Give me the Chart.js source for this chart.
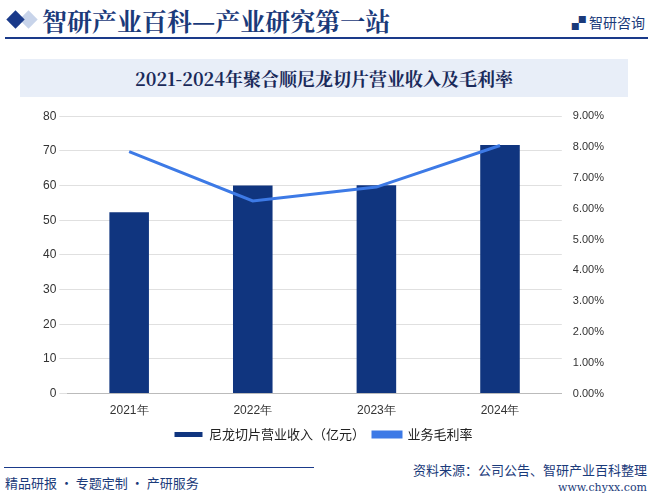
<!DOCTYPE html>
<html><head><meta charset="utf-8">
<script src="https://cdn.jsdelivr.net/npm/chart.js@4"></script>
<style>
body{margin:0;width:653px;height:503px;background:#fff;position:relative;overflow:hidden;font-family:"Noto Sans CJK SC",sans-serif;}
.hdr{position:absolute;left:42px;top:2px;font-size:25px;font-weight:bold;color:#1a3a7a;font-family:"Noto Serif CJK SC","Noto Sans CJK SC";}
.dia{position:absolute;width:13px;height:13px;background:#1a3a8a;transform:rotate(45deg);left:9px;top:13px;}
.dia2{position:absolute;width:13px;height:13px;background:#c8d4ea;transform:rotate(45deg);left:22px;top:13px;}
.logo{position:absolute;right:8px;top:12px;font-size:14px;color:#1a3a7a;}
.line1{position:absolute;left:5px;right:5px;top:37px;height:2px;background:#1a3a8a;}
.tbox{position:absolute;left:20px;top:59px;width:608px;height:38px;background:#e8eef8;text-align:center;line-height:38px;font-size:18px;color:#1a2a5a;font-weight:bold;font-family:"Noto Serif CJK SC","Noto Sans CJK SC";}
#wrap{position:absolute;left:0;top:106px;width:653px;height:345px;}
.foot1{position:absolute;left:4px;top:467px;width:310px;height:1px;background:#1a3a8a;}
.fl{position:absolute;left:5px;top:473px;font-size:13px;color:#1a3a7a;}
.fr{position:absolute;right:6px;top:460px;font-size:13px;color:#1a3a7a;}
.fw{position:absolute;right:6px;top:481px;font-size:11px;color:#1a3a7a;font-family:"DejaVu Serif";}
</style></head><body>
<div class="dia2"></div><div class="dia"></div>
<div class="hdr">智研产业百科—产业研究第一站</div>
<div class="logo">▞ 智研咨询</div>
<div class="line1"></div>
<div class="tbox">2021-2024年聚合顺尼龙切片营业收入及毛利率</div>
<div id="wrap"><canvas id="c"></canvas></div>
<div class="foot1"></div>
<div class="fl">精品研报 · 专题定制 · 产研服务</div>
<div class="fr">资料来源：公司公告、智研产业百科整理</div>
<div class="fw">www.chyxx.com</div>
<script>
const categories=["2021年","2022年","2023年","2024年"];
const revenue=[52.3,60.0,60.1,71.7];
const margin=[7.85,6.25,6.7,8.05];
new Chart(document.getElementById('c'),{
data:{labels:categories,datasets:[
{type:'line',label:'业务毛利率',data:margin,yAxisID:'y1',borderColor:'#3d7ae6',backgroundColor:'#3d7ae6',borderWidth:3,pointRadius:0,tension:0,order:0},
{type:'bar',label:'尼龙切片营业收入（亿元）',data:revenue,yAxisID:'y',backgroundColor:'#10357f',barPercentage:0.32,categoryPercentage:1,order:1}
]},
options:{responsive:true,maintainAspectRatio:false,animation:false,
layout:{padding:{left:40,right:46,top:4,bottom:0}},
plugins:{legend:{position:'bottom',reverse:true,labels:{boxWidth:28,boxHeight:5,font:{size:13,family:'Noto Sans CJK SC'},color:'#222',padding:8}},tooltip:{enabled:false}},
scales:{
x:{grid:{display:false},border:{color:'#bbb'},ticks:{color:'#333',font:{size:12},padding:2}},
y:{min:0,max:80,ticks:{stepSize:10,color:'#333',font:{size:12}},grid:{color:'#e0e0e0'},border:{display:false}},
y1:{position:'right',min:0,max:9,ticks:{stepSize:1,color:'#333',font:{size:11},callback:v=>v.toFixed(2)+'%'},grid:{display:false},border:{display:false}}
}}});
</script></body></html>
